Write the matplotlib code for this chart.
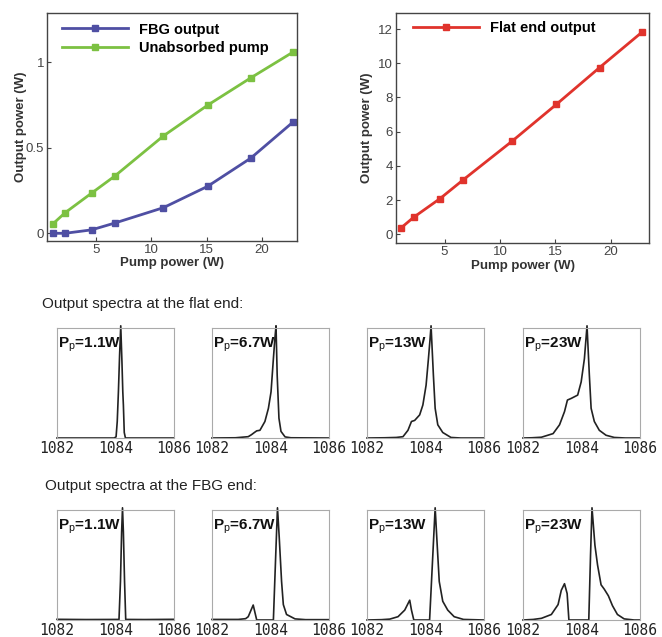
import matplotlib
matplotlib.use("Agg")
import matplotlib.pyplot as plt

plt.rcParams['font.family'] = ['Liberation Sans', 'DejaVu Sans']
plt.rcParams['mathtext.fontset'] = 'custom'
plt.rcParams['mathtext.rm'] = 'Liberation Sans'
plt.rcParams['mathtext.bf'] = 'Liberation Sans:bold'

# Potencia de bombeo y potencias de salida
pump = [1.1, 2.2, 4.6, 6.7, 11.1, 15.1, 19.0, 22.8]
fbg_out = [0.0, 0.0, 0.02, 0.06, 0.15, 0.275, 0.44, 0.65]
unabsorbed = [0.055, 0.12, 0.235, 0.335, 0.57, 0.75, 0.91, 1.06]
flat_out = [0.4, 1.0, 2.1, 3.2, 5.45, 7.6, 9.75, 11.8]

# Etiquetas de los espectros
spec_labels = ['1.1W', '6.7W', '13W', '23W']
spec_ticks = [1082, 1084, 1086]

# Espectros en el extremo plano (longitud de onda, intensidad normalizada)
flat_wl_1 = [1082.0, 1083.95, 1084.02, 1084.06, 1084.10, 1084.14, 1084.18, 1084.22, 1084.25, 1084.27, 1084.30, 1084.34, 1084.4, 1086.0]
flat_i_1 = [0, 0, 0.01, 0.15, 0.42, 0.75, 1.02, 0.7, 0.42, 0.3, 0.05, 0.0, 0, 0]
flat_wl_2 = [1082.0, 1082.8, 1083.24, 1083.35, 1083.45, 1083.53, 1083.64, 1083.81, 1083.93, 1084.02, 1084.10, 1084.15, 1084.19, 1084.23, 1084.29, 1084.36, 1084.5, 1084.7, 1086.0]
flat_i_2 = [0, 0.002, 0.012, 0.03, 0.05, 0.065, 0.07, 0.15, 0.27, 0.42, 0.72, 0.9, 1.02, 0.57, 0.18, 0.06, 0.01, 0.002, 0]
flat_wl_3 = [1082.0, 1082.6, 1083.0, 1083.23, 1083.40, 1083.52, 1083.63, 1083.80, 1083.91, 1084.02, 1084.10, 1084.15, 1084.19, 1084.27, 1084.33, 1084.42, 1084.59, 1084.87, 1085.2, 1086.0]
flat_i_3 = [0, 0.002, 0.005, 0.012, 0.07, 0.15, 0.16, 0.21, 0.30, 0.48, 0.72, 0.88, 1.02, 0.57, 0.27, 0.12, 0.05, 0.005, 0, 0]
flat_wl_4 = [1082.0, 1082.3, 1082.63, 1083.03, 1083.25, 1083.42, 1083.52, 1083.65, 1083.76, 1083.87, 1083.99, 1084.10, 1084.19, 1084.27, 1084.33, 1084.44, 1084.61, 1084.84, 1085.12, 1085.5, 1086.0]
flat_i_4 = [0, 0.002, 0.007, 0.04, 0.12, 0.24, 0.345, 0.36, 0.375, 0.39, 0.51, 0.72, 1.02, 0.57, 0.27, 0.15, 0.07, 0.025, 0.005, 0, 0]

# Espectros en el extremo FBG
fbg_wl_1 = [1082.0, 1083.0, 1084.12, 1084.17, 1084.21, 1084.24, 1084.27, 1084.31, 1084.35, 1085.0, 1086.0]
fbg_i_1 = [0.006, 0.004, 0.005, 0.35, 0.8, 1.02, 0.8, 0.35, 0.005, 0.004, 0.006]
fbg_wl_2 = [1082.0, 1082.9, 1083.15, 1083.24, 1083.32, 1083.41, 1083.49, 1083.53, 1084.10, 1084.18, 1084.24, 1084.30, 1084.38, 1084.44, 1084.55, 1084.84, 1085.2, 1086.0]
fbg_i_2 = [0.005, 0.005, 0.012, 0.03, 0.08, 0.136, 0.045, 0.0, 0.0, 0.59, 1.02, 0.75, 0.35, 0.14, 0.05, 0.01, 0.003, 0.003]
fbg_wl_3 = [1082.0, 1082.5, 1082.78, 1083.06, 1083.29, 1083.46, 1083.52, 1083.6, 1084.14, 1084.25, 1084.33, 1084.40, 1084.47, 1084.59, 1084.76, 1084.98, 1085.3, 1086.0]
fbg_i_3 = [0, 0.003, 0.008, 0.03, 0.09, 0.18, 0.09, 0.0, 0.0, 0.59, 1.02, 0.68, 0.35, 0.17, 0.09, 0.03, 0.005, 0]
fbg_wl_4 = [1082.0, 1082.35, 1082.63, 1082.97, 1083.20, 1083.31, 1083.42, 1083.51, 1083.57, 1084.25, 1084.31, 1084.36, 1084.46, 1084.55, 1084.67, 1084.78, 1084.92, 1085.06, 1085.23, 1085.46, 1085.8, 1086.0]
fbg_i_4 = [0, 0.005, 0.015, 0.05, 0.14, 0.27, 0.33, 0.24, 0.0, 0.0, 0.59, 1.02, 0.68, 0.5, 0.32, 0.28, 0.22, 0.13, 0.05, 0.01, 0.0, 0]

flat_spectra = [(flat_wl_1, flat_i_1), (flat_wl_2, flat_i_2), (flat_wl_3, flat_i_3), (flat_wl_4, flat_i_4)]
fbg_spectra = [(fbg_wl_1, fbg_i_1), (fbg_wl_2, fbg_i_2), (fbg_wl_3, fbg_i_3), (fbg_wl_4, fbg_i_4)]

fig = plt.figure(figsize=(6.62, 6.37), dpi=100)


def style_top(ax, ylab_x):
    for s in ax.spines.values():
        s.set_color('#444444')
        s.set_linewidth(1.0)
    ax.tick_params(direction='in', length=3, width=0.8, colors='#444444', labelsize=9.5, pad=2)
    ax.set_xlabel('Pump power (W)', fontsize=9.5, fontweight='bold', color='#333333')
    ax.set_ylabel('Output power (W)', fontsize=9.5, fontweight='bold', color='#333333')
    ax.xaxis.set_label_coords(0.5, -0.072)
    ax.yaxis.set_label_coords(ylab_x, 0.5)


# Gráfica superior izquierda
ax1 = fig.add_axes([0.071, 0.6217, 0.378, 0.358])
ax1.plot(pump, fbg_out, color='#4f4fa3', lw=2, marker='s', ms=4, label='FBG output')
ax1.plot(pump, unabsorbed, color='#7cc142', lw=2, marker='s', ms=4, label='Unabsorbed pump')
ax1.set_xlim(0.57, 23.2)
ax1.set_ylim(-0.045, 1.29)
ax1.set_xticks([5, 10, 15, 20])
ax1.set_yticks([0, 0.5, 1])
ax1.set_yticklabels(['0', '0.5', '1'])
style_top(ax1, -0.08)
ax1.legend(loc='upper left', frameon=False, prop={'weight': 'bold', 'size': 10.5},
           handlelength=4.5, handletextpad=0.8, borderpad=0, borderaxespad=0,
           labelspacing=0.3, bbox_to_anchor=(0.06, 0.958))

# Gráfica superior derecha
ax2 = fig.add_axes([0.598, 0.6185, 0.383, 0.3615])
ax2.plot(pump, flat_out, color='#e0332c', lw=2, marker='s', ms=4, label='Flat end output')
ax2.set_xlim(0.6, 23.5)
ax2.set_ylim(-0.5, 12.95)
ax2.set_xticks([5, 10, 15, 20])
ax2.set_yticks([0, 2, 4, 6, 8, 10, 12])
style_top(ax2, -0.09)
ax2.legend(loc='upper left', frameon=False, prop={'weight': 'bold', 'size': 10.5},
           handlelength=4.5, handletextpad=0.8, borderpad=0, borderaxespad=0,
           bbox_to_anchor=(0.068, 0.962))

# Títulos de los espectros
fig.text(0.064, 0.523, 'Output spectra at the flat end:', fontsize=11, va='center', color='#222222')
fig.text(0.068, 0.237, 'Output spectra at the FBG end:', fontsize=11, va='center', color='#222222')

lefts = [0.0861, 0.3202, 0.5544, 0.7900]
bottoms = [0.3124, 0.0267]
for row, spectra in enumerate([flat_spectra, fbg_spectra]):
    for k, (wl, inten) in enumerate(spectra):
        ax = fig.add_axes([lefts[k], bottoms[row], 0.1767, 0.1727])
        ax.plot(wl, inten, color='#222222', lw=1.2, clip_on=False, solid_joinstyle='round')
        ax.set_xlim(1082, 1086)
        ax.set_ylim(0, 1.0)
        ax.set_yticks([])
        ax.set_xticks(spec_ticks)
        ax.set_xticklabels([str(t) for t in spec_ticks], family='DejaVu Sans Mono', fontsize=10.5)
        ax.tick_params(axis='x', length=0, pad=2, colors='#222222')
        for s in ax.spines.values():
            s.set_color('#aaaaaa')
            s.set_linewidth(0.8)
        ax.text(0.01, 0.82, r'$\mathbf{P}_\mathrm{p}$=' + spec_labels[k],
                transform=ax.transAxes, fontsize=11, fontweight='bold', color='#111111', va='baseline')

fig.savefig('out.png', dpi=100)
